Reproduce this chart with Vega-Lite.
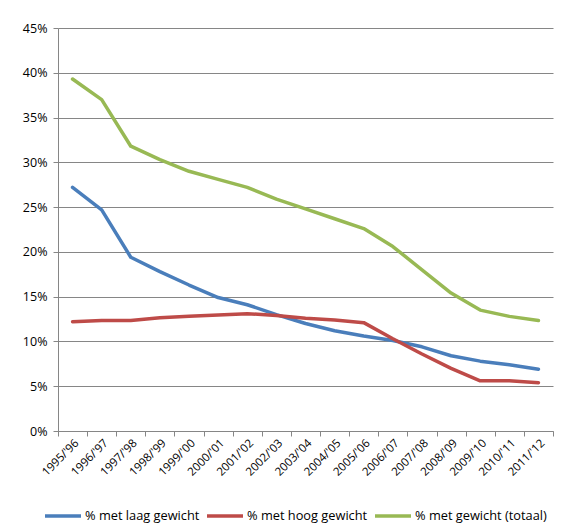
{
  "$schema": "https://vega.github.io/schema/vega-lite/v6.json",
  "width": 495,
  "height": 403,
  "autosize": {"type": "none"},
  "padding": {"left": 58, "top": 28, "right": 10, "bottom": 100},
  "background": "white",
  "config": {
    "view": {"stroke": null},
    "font": "Open Sans",
    "axis": {
      "labelFont": "Open Sans",
      "labelFontSize": 12,
      "labelColor": "#000000",
      "domainColor": "#868686",
      "tickColor": "#868686",
      "gridColor": "#868686",
      "gridWidth": 1,
      "gridOpacity": 1,
      "tickSize": 5,
      "title": null
    },
    "legend": {"labelFont": "Open Sans", "labelFontSize": 12.8, "labelColor": "#000000"}
  },
  "data": {
    "values": [
      {"jaar": "1995/'96", "reeks": "% met laag gewicht", "waarde": 0.272},
      {"jaar": "1996/'97", "reeks": "% met laag gewicht", "waarde": 0.247},
      {"jaar": "1997/'98", "reeks": "% met laag gewicht", "waarde": 0.194},
      {"jaar": "1998/'99", "reeks": "% met laag gewicht", "waarde": 0.178},
      {"jaar": "1999/'00", "reeks": "% met laag gewicht", "waarde": 0.163},
      {"jaar": "2000/'01", "reeks": "% met laag gewicht", "waarde": 0.149},
      {"jaar": "2001/'02", "reeks": "% met laag gewicht", "waarde": 0.141},
      {"jaar": "2002/'03", "reeks": "% met laag gewicht", "waarde": 0.130},
      {"jaar": "2003/'04", "reeks": "% met laag gewicht", "waarde": 0.120},
      {"jaar": "2004/'05", "reeks": "% met laag gewicht", "waarde": 0.112},
      {"jaar": "2005/'06", "reeks": "% met laag gewicht", "waarde": 0.106},
      {"jaar": "2006/'07", "reeks": "% met laag gewicht", "waarde": 0.101},
      {"jaar": "2007/'08", "reeks": "% met laag gewicht", "waarde": 0.094},
      {"jaar": "2008/'09", "reeks": "% met laag gewicht", "waarde": 0.084},
      {"jaar": "2009/'10", "reeks": "% met laag gewicht", "waarde": 0.078},
      {"jaar": "2010/'11", "reeks": "% met laag gewicht", "waarde": 0.074},
      {"jaar": "2011/'12", "reeks": "% met laag gewicht", "waarde": 0.069},
      {"jaar": "1995/'96", "reeks": "% met hoog gewicht", "waarde": 0.122},
      {"jaar": "1996/'97", "reeks": "% met hoog gewicht", "waarde": 0.1235},
      {"jaar": "1997/'98", "reeks": "% met hoog gewicht", "waarde": 0.1235},
      {"jaar": "1998/'99", "reeks": "% met hoog gewicht", "waarde": 0.1265},
      {"jaar": "1999/'00", "reeks": "% met hoog gewicht", "waarde": 0.128},
      {"jaar": "2000/'01", "reeks": "% met hoog gewicht", "waarde": 0.1295},
      {"jaar": "2001/'02", "reeks": "% met hoog gewicht", "waarde": 0.131},
      {"jaar": "2002/'03", "reeks": "% met hoog gewicht", "waarde": 0.129},
      {"jaar": "2003/'04", "reeks": "% met hoog gewicht", "waarde": 0.126},
      {"jaar": "2004/'05", "reeks": "% met hoog gewicht", "waarde": 0.124},
      {"jaar": "2005/'06", "reeks": "% met hoog gewicht", "waarde": 0.121},
      {"jaar": "2006/'07", "reeks": "% met hoog gewicht", "waarde": 0.103},
      {"jaar": "2007/'08", "reeks": "% met hoog gewicht", "waarde": 0.086},
      {"jaar": "2008/'09", "reeks": "% met hoog gewicht", "waarde": 0.070},
      {"jaar": "2009/'10", "reeks": "% met hoog gewicht", "waarde": 0.056},
      {"jaar": "2010/'11", "reeks": "% met hoog gewicht", "waarde": 0.056},
      {"jaar": "2011/'12", "reeks": "% met hoog gewicht", "waarde": 0.054},
      {"jaar": "1995/'96", "reeks": "% met gewicht (totaal)", "waarde": 0.393},
      {"jaar": "1996/'97", "reeks": "% met gewicht (totaal)", "waarde": 0.370},
      {"jaar": "1997/'98", "reeks": "% met gewicht (totaal)", "waarde": 0.318},
      {"jaar": "1998/'99", "reeks": "% met gewicht (totaal)", "waarde": 0.303},
      {"jaar": "1999/'00", "reeks": "% met gewicht (totaal)", "waarde": 0.290},
      {"jaar": "2000/'01", "reeks": "% met gewicht (totaal)", "waarde": 0.281},
      {"jaar": "2001/'02", "reeks": "% met gewicht (totaal)", "waarde": 0.272},
      {"jaar": "2002/'03", "reeks": "% met gewicht (totaal)", "waarde": 0.259},
      {"jaar": "2003/'04", "reeks": "% met gewicht (totaal)", "waarde": 0.248},
      {"jaar": "2004/'05", "reeks": "% met gewicht (totaal)", "waarde": 0.237},
      {"jaar": "2005/'06", "reeks": "% met gewicht (totaal)", "waarde": 0.226},
      {"jaar": "2006/'07", "reeks": "% met gewicht (totaal)", "waarde": 0.206},
      {"jaar": "2007/'08", "reeks": "% met gewicht (totaal)", "waarde": 0.180},
      {"jaar": "2008/'09", "reeks": "% met gewicht (totaal)", "waarde": 0.154},
      {"jaar": "2009/'10", "reeks": "% met gewicht (totaal)", "waarde": 0.135},
      {"jaar": "2010/'11", "reeks": "% met gewicht (totaal)", "waarde": 0.128},
      {"jaar": "2011/'12", "reeks": "% met gewicht (totaal)", "waarde": 0.1235}
    ]
  },
  "mark": {"type": "line", "strokeWidth": 3.5, "strokeJoin": "round", "strokeCap": "round"},
  "encoding": {
    "x": {
      "field": "jaar",
      "type": "ordinal",
      "sort": null,
      "bandPosition": 0.5,
      "scale": {"type": "band", "paddingInner": 0, "paddingOuter": 0},
      "axis": {"labelAngle": -45, "tickBand": "extent", "grid": false, "labelPadding": 1, "labelFontSize": 11.5}
    },
    "y": {
      "field": "waarde",
      "type": "quantitative",
      "scale": {"domain": [0, 0.45], "nice": false},
      "axis": {"format": ".0%", "values": [0, 0.05, 0.1, 0.15, 0.2, 0.25, 0.3, 0.35, 0.4, 0.45], "grid": true, "labelPadding": 6, "labelFontSize": 12.5}
    },
    "color": {
      "field": "reeks",
      "type": "nominal",
      "scale": {
        "domain": ["% met laag gewicht", "% met hoog gewicht", "% met gewicht (totaal)"],
        "range": ["#4A7EBB", "#BE4B48", "#98B954"]
      },
      "legend": {
        "title": null,
        "orient": "none",
        "legendX": -15,
        "legendY": 468,
        "direction": "horizontal",
        "symbolType": "stroke",
        "symbolSize": 1296,
        "symbolStrokeWidth": 3.5,
        "columnPadding": 0,
        "labelOffset": 2
      }
    }
  }
}
